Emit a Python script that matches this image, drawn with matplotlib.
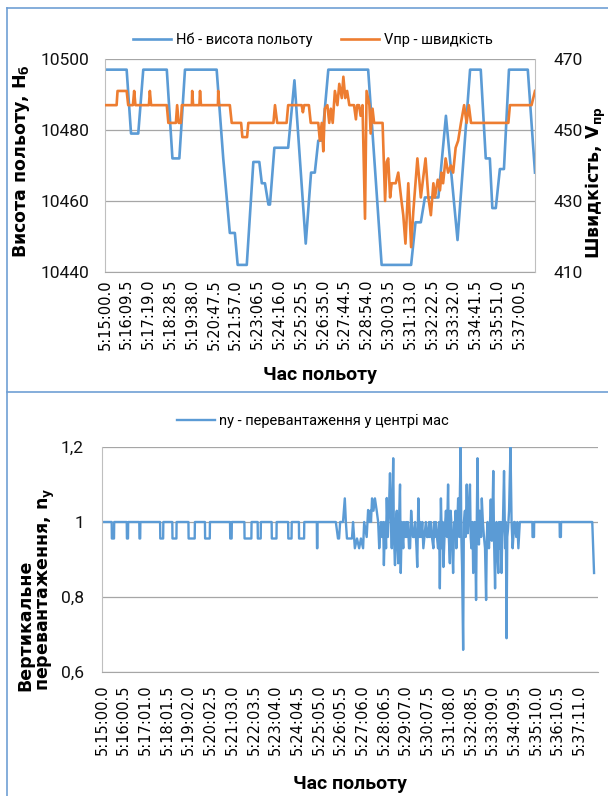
import matplotlib
matplotlib.use("Agg")
import matplotlib.pyplot as plt
from matplotlib.lines import Line2D

plt.rcParams['font.family'] = ['DejaVu Sans']
plt.rcParams['mathtext.fontset'] = 'dejavusans'
NARROW = ['Roboto', 'DejaVu Sans']

# -------------------------
# Data: seconds after 5:15:00.0
# -------------------------
# altitude Hб (left axis)
h_t = [0, 69, 83, 106, 122, 197, 215, 237, 255, 356, 377, 398, 414, 423, 452,
       473, 492, 500, 510, 521, 526, 540, 584, 604, 640, 657, 669, 680, 692,
       712, 839, 882, 976, 990, 1007, 1020, 1063, 1087, 1124, 1164, 1198,
       1214, 1227, 1235, 1246, 1259, 1272, 1288, 1348, 1371]
h_val = [10497, 10497, 10479, 10479, 10497, 10497, 10472, 10472, 10497, 10497,
         10472, 10451, 10451, 10442, 10442, 10471, 10471, 10465, 10465, 10459,
         10459, 10475, 10475, 10494, 10448, 10468, 10468, 10477, 10477, 10497,
         10497, 10442, 10442, 10454, 10454, 10461, 10461, 10484, 10449, 10497,
         10497, 10472, 10472, 10458, 10458, 10469, 10469, 10497, 10497, 10468]

# airspeed Vпр (right axis)
v_t = [0, 37, 40, 69, 74, 89, 93, 97, 140, 143, 147, 197, 202, 226, 230, 235,
       242, 245, 277, 278, 281, 301, 303, 306, 360, 361, 363, 398, 404, 434,
       438, 453, 457, 537, 542, 549, 579, 584, 627, 631, 635, 650, 656, 680,
       685, 691, 696, 701, 709, 715, 720, 726, 733, 741, 747, 755, 760, 766,
       772, 779, 794, 800, 804, 810, 815, 821, 829, 834, 843, 847, 853, 858,
       885, 893, 898, 903, 909, 914, 927, 935, 944, 951, 958, 967, 976, 983,
       996, 1007, 1022, 1031, 1039, 1047, 1052, 1061, 1068, 1073, 1078, 1086,
       1094, 1103, 1110, 1118, 1126, 1135, 1145, 1153, 1160, 1167, 1286, 1291,
       1360, 1371]
v_val = [457, 457, 461, 461, 457, 457, 461, 457, 457, 461, 457, 457, 452, 452,
         457, 452, 452, 457, 457, 461, 457, 457, 461, 457, 457, 461, 457, 457,
         452, 452, 448, 448, 452, 452, 457, 452, 452, 457, 457, 455, 457, 457,
         452, 452, 447, 452, 444, 456, 457, 452, 456, 452, 461, 457, 463, 459,
         465, 459, 461, 457, 457, 453, 457, 457, 454, 457, 425, 461, 457, 449,
         456, 452, 452, 430, 441, 442, 431, 435, 435, 438, 431, 426, 418, 435,
         417, 427, 442, 431, 442, 431, 426, 435, 431, 436, 433, 438, 435, 442,
         438, 440, 438, 445, 447, 452, 457, 452, 457, 452, 452, 457, 457, 461]

# overload ny: short dips from 1.0 in quiet flight (start, end, value)
dip_start = [27, 69, 104, 162, 196, 241, 287, 357, 397, 434, 473, 519, 549, 599,
             1200, 1276]
dip_end = [34, 73, 107, 171, 208, 259, 301, 362, 417, 443, 487, 529, 564, 601,
           1205, 1280]
dip_val = [0.956, 0.956, 0.956, 0.956, 0.956, 0.956, 0.956, 0.956, 0.956, 0.956,
           0.956, 0.956, 0.956, 0.93, 0.96, 0.96]

# overload ny: turbulent part
turb_t = [652, 658, 661, 664, 672, 677, 680, 683, 697, 700, 705, 711, 717, 722,
          728, 731, 738, 742, 745, 748, 750, 753, 757, 761, 766, 770, 773, 775,
          778, 781, 784, 786, 788, 790, 792, 794, 797, 800, 803, 806, 808, 810,
          812, 814, 817, 819, 822, 824, 826, 828, 831, 833, 836, 838, 840, 842,
          845, 848, 850, 853, 856, 859, 862, 864, 867, 870, 873, 877, 879, 882,
          885, 887, 890, 893, 896, 899, 903, 906, 909, 912, 914, 917, 920, 924,
          926, 928, 931, 934, 937, 940, 942, 945, 948, 950, 952, 955, 957, 959,
          962, 965, 967, 970, 972, 974, 977, 979, 982, 984, 986, 988, 991, 993,
          996, 1000, 1002, 1004, 1007, 1009, 1012, 1014, 1017, 1020, 1023, 1026,
          1028, 1030, 1033, 1035, 1037, 1039, 1041, 1043, 1045, 1047, 1049, 1051,
          1053, 1055, 1057, 1059, 1062, 1065, 1068, 1071, 1073, 1075, 1077, 1079,
          1082, 1084, 1087, 1089, 1091, 1093, 1096, 1098, 1100, 1102, 1105, 1107,
          1110, 1112, 1114, 1116, 1118, 1121, 1124, 1126, 1128, 1130, 1132, 1135,
          1139, 1142, 1145, 1147, 1149, 1151, 1155, 1158, 1161, 1165]
turb_val = [1.0, 0.956, 0.956, 1.0, 1.0, 1.063, 1.0, 0.956, 0.956, 1.0, 0.93,
            0.956, 0.93, 0.956, 0.93, 1.0, 0.96, 1.032, 1.0, 1.03, 1.0, 1.063,
            1.03, 1.063, 1.03, 1.0, 0.93, 0.96, 1.0, 0.96, 1.0, 0.885, 0.96, 1.0,
            0.93, 1.064, 0.96, 1.03, 1.13, 1.0, 0.93, 1.06, 1.17, 0.96, 0.885,
            1.0, 1.03, 0.93, 0.89, 1.0, 1.1, 0.864, 1.0, 0.96, 0.93, 1.0, 0.96,
            1.0, 0.96, 1.0, 0.93, 0.93, 1.03, 1.0, 0.96, 0.96, 1.0, 0.93, 0.88,
            1.063, 0.96, 1.0, 0.96, 1.0, 0.93, 0.96, 1.0, 0.96, 0.96, 1.0, 0.96,
            1.0, 0.96, 0.93, 1.0, 0.96, 1.0, 0.96, 0.93, 1.0, 0.823, 1.063, 0.93,
            1.0, 0.88, 0.96, 1.0, 1.03, 0.96, 1.1, 0.96, 0.89, 1.03, 1.0, 0.93,
            0.864, 1.0, 0.96, 1.03, 0.93, 1.0, 1.063, 0.96, 1.2, 0.96, 0.88,
            0.659, 1.0, 1.03, 0.96, 1.1, 0.97, 1.03, 1.1, 0.96, 0.93, 1.0, 0.864,
            0.96, 1.0, 0.93, 0.792, 1.0, 1.17, 1.0, 0.94, 1.03, 1.0, 0.96, 1.063,
            1.0, 0.96, 0.93, 0.792, 0.96, 1.0, 0.96, 0.93, 1.0, 1.06, 0.95, 1.03,
            1.136, 0.96, 0.823, 0.96, 1.0, 0.93, 0.864, 1.0, 0.93, 1.0, 0.864,
            0.96, 1.0, 1.136, 0.93, 1.0, 0.69, 0.96, 0.98, 1.03, 1.2, 1.0, 0.93,
            0.96, 1.0, 1.0, 0.96, 1.0, 0.93, 1.0]
end_t = [1367, 1372]
end_val = [1.0, 0.864]

top_step = 69.5
top_labels = ["5:15:00.0", "5:16:09.5", "5:17:19.0", "5:18:28.5", "5:19:38.0",
              "5:20:47.5", "5:21:57.0", "5:23:06.5", "5:24:16.0", "5:25:25.5",
              "5:26:35.0", "5:27:44.5", "5:28:54.0", "5:30:03.5", "5:31:13.0",
              "5:32:22.5", "5:33:32.0", "5:34:41.5", "5:35:51.0", "5:37:00.5"]
bot_step = 60.5
bot_labels = ["5:15:00.0", "5:16:00.5", "5:17:01.0", "5:18:01.5", "5:19:02.0",
              "5:20:02.5", "5:21:03.0", "5:22:03.5", "5:23:04.0", "5:24:04.5",
              "5:25:05.0", "5:26:05.5", "5:27:06.0", "5:28:06.5", "5:29:07.0",
              "5:30:07.5", "5:31:08.0", "5:32:08.5", "5:33:09.0", "5:34:09.5",
              "5:35:10.0", "5:36:10.5", "5:37:11.0"]

# build the ny series: baseline 1.0 with the dips, then the turbulent part
ny_t, ny_val = [0], [1.0]
for s, e, v in zip(dip_start, dip_end, dip_val):
    if s > turb_t[0] and ny_t[-1] < turb_t[-1]:
        ny_t += turb_t
        ny_val += turb_val
    ny_t += [s, s + 0.5, e - 0.5, e]
    ny_val += [1.0, v, v, 1.0]
ny_t += end_t
ny_val += end_val

BLUE = '#5B9BD5'
ORANGE = '#ED7D31'
GRID = '#a6a6a6'
TXT = '#111111'

fig = plt.figure(figsize=(6.08, 7.96), dpi=100)

# chart frames
frame_col = '#6f9fd4'
fig.add_artist(Line2D([7/608, 7/608], [0, 1 - 8/796], color=frame_col, lw=1.2))
fig.add_artist(Line2D([7/608, 1], [1 - 8/796, 1 - 8/796], color=frame_col, lw=1.2))
fig.add_artist(Line2D([7/608, 1], [1 - 392/796, 1 - 392/796], color=frame_col, lw=1.2))

# -------------------------
# Top chart: altitude and speed
# -------------------------
ax1 = fig.add_axes([105/608, 1 - 272/796, 430/608, 213/796])
ax1.plot(h_t, h_val, color=BLUE, lw=1.9, label="Нб - висота польоту")
ax1.set_xlim(0, 1371)
ax1.set_ylim(10440, 10500)
ax1.set_yticks([10440, 10460, 10480, 10500])
ax1.yaxis.grid(True, color=GRID, lw=0.9)
ax1.set_axisbelow(True)
ax1.set_xticks([i * top_step for i in range(len(top_labels))])
ax1.set_xticklabels(top_labels, rotation=90)
ax1.tick_params(axis='y', labelsize=12.5, length=0, colors=TXT, pad=11)
ax1.tick_params(axis='x', labelsize=10.5, length=0, colors='black', pad=5)
for s in ['top', 'right']:
    ax1.spines[s].set_visible(False)
ax1.spines['left'].set_color('#bfbfbf')
ax1.spines['bottom'].set_color(GRID)
ax1.set_ylabel("Висота польоту, H$_{\\mathbf{б}}$", fontsize=12.5, fontweight='bold')
ax1.yaxis.set_label_coords(-0.17, 0.52)
ax1.set_xlabel("Час польоту", family=NARROW, fontsize=14, fontweight='bold',
               labelpad=12)

ax2 = ax1.twinx()
ax2.plot(v_t, v_val, color=ORANGE, lw=1.9, label="Vпр - швидкість")
ax2.set_ylim(410, 470)
ax2.set_yticks([410, 430, 450, 470])
ax2.tick_params(axis='y', labelsize=12.5, length=0, colors=TXT, pad=13)
for s in ['top', 'left', 'bottom']:
    ax2.spines[s].set_visible(False)
ax2.spines['right'].set_color('#bfbfbf')
ax2.set_ylabel("Швидкість, V$_{\\mathbf{пр}}$", fontsize=12.5, fontweight='bold')
ax2.yaxis.set_label_coords(1.113, 0.42)

handles = ax1.get_lines() + ax2.get_lines()
fig.legend(handles, [h.get_label() for h in handles], loc='center',
           bbox_to_anchor=(313/608, 1 - 40/796), ncol=2, frameon=False,
           prop={'family': NARROW, 'size': 10.5}, handlelength=2.6,
           columnspacing=2.0, handletextpad=0.3)

# -------------------------
# Bottom chart: vertical overload
# -------------------------
ax3 = fig.add_axes([102/608, 1 - 672/796, 496/608, 225/796])
ax3.plot(ny_t, ny_val, color=BLUE, lw=1.7, label="ny - перевантаження у центрі мас")
ax3.set_xlim(0, 1383)
ax3.set_ylim(0.6, 1.2)
ax3.set_yticks([0.6, 0.8, 1.0, 1.2])
ax3.set_yticklabels(["0,6", "0,8", "1", "1,2"])
ax3.yaxis.grid(True, color=GRID, lw=0.9)
ax3.set_axisbelow(True)
ax3.set_xticks([i * bot_step for i in range(len(bot_labels))])
ax3.set_xticklabels(bot_labels, rotation=90)
ax3.tick_params(axis='y', labelsize=12.5, length=0, colors=TXT, pad=13)
ax3.tick_params(axis='x', labelsize=10.5, length=0, colors='black', pad=9)
for s in ['top', 'right']:
    ax3.spines[s].set_visible(False)
ax3.spines['left'].set_color('#bfbfbf')
ax3.spines['bottom'].set_color(GRID)
ax3.set_ylabel("Вертикальне\nперевантаження, n$_{\\mathbf{y}}$",
               fontsize=12.5, fontweight='bold', linespacing=1.1,
               multialignment='left')
ax3.yaxis.set_label_coords(-0.09, 0.37)
ax3.set_xlabel("Час польоту", family=NARROW, fontsize=14, fontweight='bold',
               labelpad=14)
ax3.legend(loc='center', bbox_to_anchor=(0.425, 1 + 26/225), frameon=False,
           prop={'family': NARROW, 'size': 10.5}, handlelength=2.6,
           handletextpad=0.3)

# y tick numbers in the narrow face
for ax in (ax1, ax2, ax3):
    for lbl in ax.get_yticklabels():
        lbl.set_family(NARROW)

fig.savefig("out.png", dpi=100)
